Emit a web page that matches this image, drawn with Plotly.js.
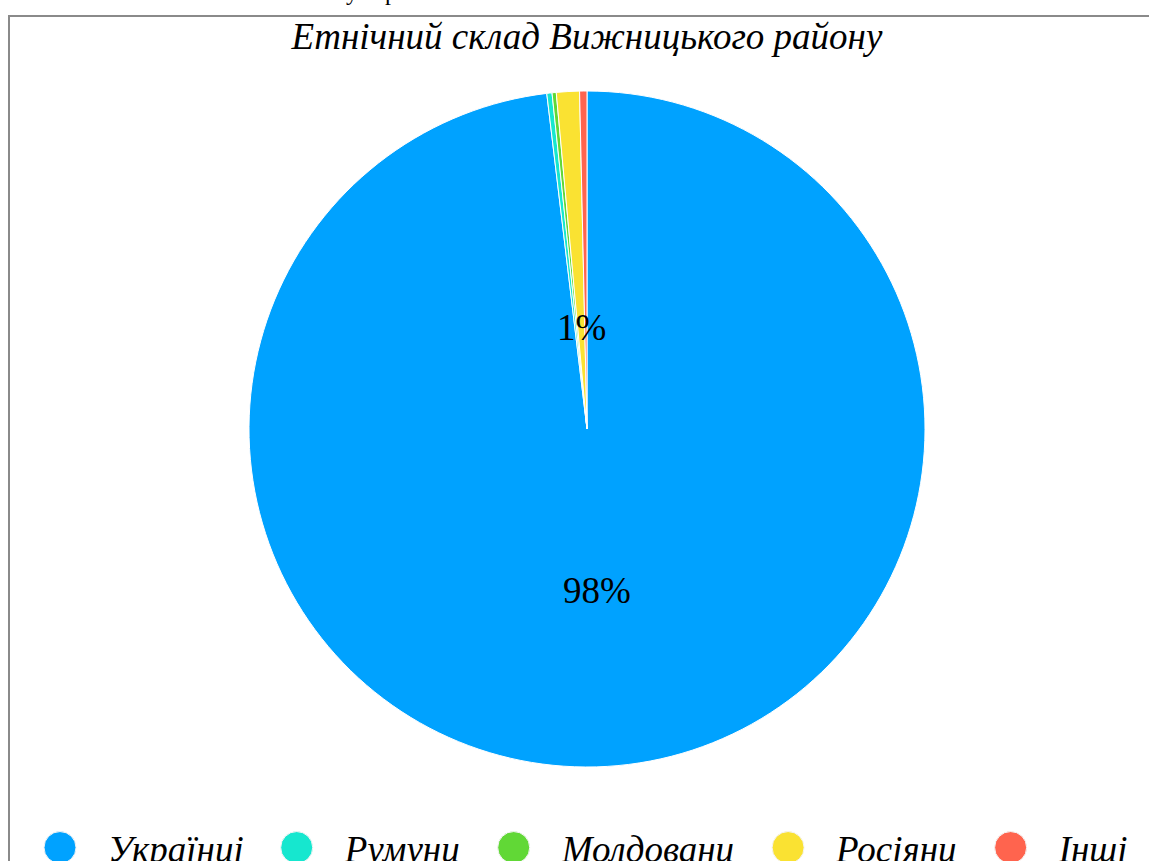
<!DOCTYPE html>
<html>
<head>
<meta charset="utf-8">
<script src="https://cdn.plot.ly/plotly-3.0.1.min.js"></script>
<style>
  html, body { margin:0; padding:0; background:#fff; overflow:hidden; width:1149px; height:861px; }
  #frame { position:absolute; left:8px; top:15px; width:1154px; height:1000px; border:2px solid #8a8a8a; }
  #chart { width:1154px; height:900px; }
  .cut { position:absolute; font-family:'Liberation Serif'; font-size:24px; line-height:24px; color:#000; }
</style>
</head>
<body>
<span class="cut" style="left:346px; top:-20px;">у</span>
<span class="cut" style="left:385px; top:-20px;">р</span>
<div id="frame"><div id="chart"></div></div>
<script>
// ---- data ----
const titleText = 'Етнічний склад Вижницького району';
const labels = ['Українці', 'Румуни', 'Молдовани', 'Росіяни', 'Інші'];
const values = [98.1, 0.25, 0.2, 1.1, 0.35];
const colors = ['#00A2FF', '#16E7CF', '#61D836', '#FAE232', '#FF644E'];

// ---- style / layout ----
const W = 1154, H = 900;
const M = { l: 0, r: 0, t: 74, b: 150 };
const SERIF = 'Liberation Serif';
const LABEL_R = { 'Росіяни': 0.30, _default: 0.48 };

const plotW = W - M.l - M.r, plotH = H - M.t - M.b;
const R = Math.min(plotW, plotH) / 2;
const total = values.reduce((a, b) => a + b, 0);

const annotations = [];
let cum = 0;
values.forEach((v, i) => {
  const pct = Math.round(v / total * 100);
  const mid = (cum + v / 2) / total;
  cum += v;
  if (pct < 1) return;
  const k = LABEL_R[labels[i]] !== undefined ? LABEL_R[labels[i]] : LABEL_R._default;
  const th = 2 * Math.PI * mid;
  const px = plotW / 2 + k * R * Math.sin(th);
  const py = plotH / 2 - k * R * Math.cos(th);
  annotations.push({
    xref: 'paper', yref: 'paper',
    x: px / plotW, y: 1 - py / plotH,
    xanchor: 'center', yanchor: 'middle',
    text: pct + '%', showarrow: false,
    font: { family: SERIF, size: 37, color: '#000' }
  });
});

const trace = {
  type: 'pie',
  labels: labels,
  values: values,
  sort: false,
  direction: 'clockwise',
  rotation: 0,
  textinfo: 'none',
  hoverinfo: 'label+percent',
  marker: { colors: colors, line: { color: '#ffffff', width: 1 } },
  domain: { x: [0, 1], y: [0, 1] }
};

const legendCenterPx = 831; // from top of chart div
const layout = {
  width: W, height: H,
  margin: M,
  paper_bgcolor: '#fff',
  plot_bgcolor: '#fff',
  showlegend: true,
  font: { family: SERIF },
  title: {
    text: titleText,
    x: 0.5, xanchor: 'center',
    y: 1 - 19 / H, yref: 'container', yanchor: 'middle',
    font: { family: SERIF, size: 37, color: '#000', style: 'italic' }
  },
  legend: {
    orientation: 'h',
    x: 0.5 - 14 / W, xanchor: 'center',
    y: 1 - (legendCenterPx - M.t) / plotH, yanchor: 'middle',
    itemwidth: 86,
    font: { family: SERIF, size: 37, color: '#000', style: 'italic' },
    bgcolor: 'rgba(0,0,0,0)'
  },
  annotations: annotations
};

Plotly.newPlot('chart', [trace], layout, { displayModeBar: false, staticPlot: true }).then(() => {
  // round legend swatches like the original
  document.querySelectorAll('#chart .legend path.legendpie').forEach(p => {
    p.setAttribute('d', 'M16,0A16,16 0 1,1 0,-16A16,16 0 0,1 16,0Z');
    p.style.stroke = '#f4f4f4';
    p.style.strokeWidth = '1px';
  });
});
</script>
</body>
</html>
